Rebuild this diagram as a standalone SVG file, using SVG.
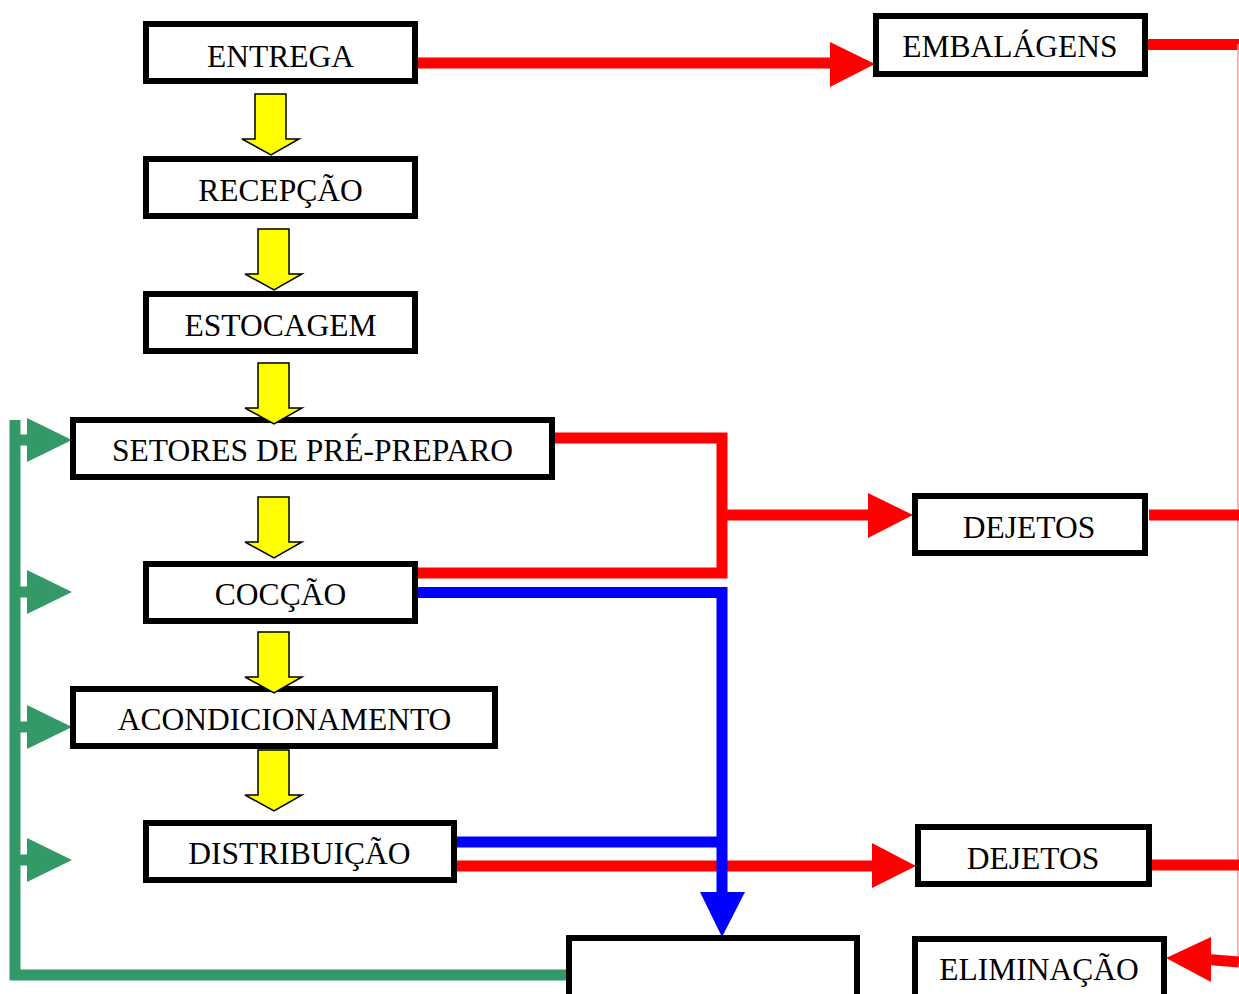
<svg xmlns="http://www.w3.org/2000/svg" width="1239" height="994" viewBox="0 0 1239 994">
  <style>
    .box { fill: #ffffff; stroke: #000000; stroke-width: 6; }
    .lbl { font-family: "Liberation Serif", "Times New Roman", serif; font-size: 31.5px; fill: #000000; text-anchor: middle; }
    .red { stroke: #ff0000; stroke-width: 11; fill: none; }
    .blue { stroke: #0000ff; stroke-width: 11; fill: none; }
    .green { stroke: #339966; stroke-width: 11; fill: none; }
    .redhead { fill: #ff0000; }
    .bluehead { fill: #0000ff; }
    .greenhead { fill: #339966; }
    .flow { fill: #ffff00; stroke: #000000; stroke-width: 1.5; stroke-linejoin: miter; }
  </style>
  <defs>
    <!-- block arrow pointing down, origin at top centre, 61px long -->
    <path id="down" d="M -16 0 H 15 V 45 H 28 L 0 61 L -29 45 H -16 Z"/>
  </defs>
  <rect width="1239" height="994" fill="#ffffff"/>

  <g id="connectors">
    <!-- return line on the left -->
    <path class="green" d="M 15 420 V 975 H 570"/>
    <path class="green" d="M 15 440 H 30 M 15 592 H 30 M 15 727 H 30 M 15 860 H 30"/>
    <polygon class="greenhead" points="27,418 72,440 27,462"/>
    <polygon class="greenhead" points="27,570 72,592 27,614"/>
    <polygon class="greenhead" points="27,705 72,727 27,749"/>
    <polygon class="greenhead" points="27,838 72,860 27,882"/>

    <!-- packaging -->
    <path class="red" d="M 418 63 H 832"/>
    <polygon class="redhead" points="830,42 875,64 830,87"/>
    <path class="red" d="M 1146 44.5 H 1239"/>
    <line x1="1238" y1="44" x2="1238" y2="962" stroke="#ff9999" stroke-width="1.5"/>

    <!-- waste from pre-preparation and cooking -->
    <path class="red" d="M 554 438 H 722 V 573 H 416"/>
    <path class="red" d="M 722 515 H 870"/>
    <polygon class="redhead" points="868,493 913,515 868,538"/>
    <path class="red" d="M 1149 515 H 1239"/>

    <!-- waste from distribution -->
    <path class="red" d="M 456 866 H 874"/>
    <polygon class="redhead" points="872,843 916,866 872,888"/>
    <path class="red" d="M 1151 865 H 1239"/>

    <!-- to elimination -->
    <path class="red" d="M 1239 962 L 1208 959.5"/>
    <polygon class="redhead" points="1211,937 1166,958 1211,982"/>

    <!-- utensils route -->
    <path class="blue" d="M 416 592.5 H 722 V 895"/>
    <path class="blue" d="M 456 842 H 722"/>
    <polygon class="bluehead" points="700,892 745,892 722,937"/>
  </g>

  <g id="entrega"><rect class="box" x="146" y="24" width="269" height="57"/><text class="lbl" x="280.5" y="67">ENTREGA</text></g>
  <g id="recepcao"><rect class="box" x="146" y="159" width="269" height="57"/><text class="lbl" x="280.5" y="201">RECEPÇÃO</text></g>
  <g id="estocagem"><rect class="box" x="146" y="294" width="269" height="57"/><text class="lbl" x="280.5" y="336">ESTOCAGEM</text></g>
  <g id="setores"><rect class="box" x="73" y="420" width="479" height="57"/><text class="lbl" x="312.5" y="461">SETORES DE PRÉ-PREPARO</text></g>
  <g id="coccao"><rect class="box" x="146" y="564" width="269" height="57"/><text class="lbl" x="280.5" y="605">COCÇÃO</text></g>
  <g id="acondicionamento"><rect class="box" x="73" y="689" width="422" height="57"/><text class="lbl" x="284.5" y="730">ACONDICIONAMENTO</text></g>
  <g id="distribuicao"><rect class="box" x="146" y="823" width="308" height="57"/><text class="lbl" x="299.5" y="864">DISTRIBUIÇÃO</text></g>
  <g id="embalagens"><rect class="box" x="876" y="16" width="269" height="58"/><text class="lbl" x="1010" y="57">EMBALÁGENS</text></g>
  <g id="dejetos-1"><rect class="box" x="915" y="496" width="230" height="57"/><text class="lbl" x="1029" y="538">DEJETOS</text></g>
  <g id="dejetos-2"><rect class="box" x="918" y="827" width="231" height="57"/><text class="lbl" x="1033" y="869">DEJETOS</text></g>
  <g id="eliminacao"><rect class="box" x="915" y="939" width="249" height="70"/><text class="lbl" x="1039" y="980">ELIMINAÇÃO</text></g>
  <!-- box at the bottom edge; its label lies below the page -->
  <g id="bottom-box"><rect class="box" x="569" y="938" width="288" height="70"/></g>

  <g id="flow-arrows">
    <use href="#down" class="flow" x="271" y="94"/>
    <use href="#down" class="flow" x="274" y="229"/>
    <use href="#down" class="flow" x="274" y="363"/>
    <use href="#down" class="flow" x="274" y="497"/>
    <use href="#down" class="flow" x="274" y="632"/>
    <use href="#down" class="flow" x="274" y="750"/>
  </g>
</svg>
